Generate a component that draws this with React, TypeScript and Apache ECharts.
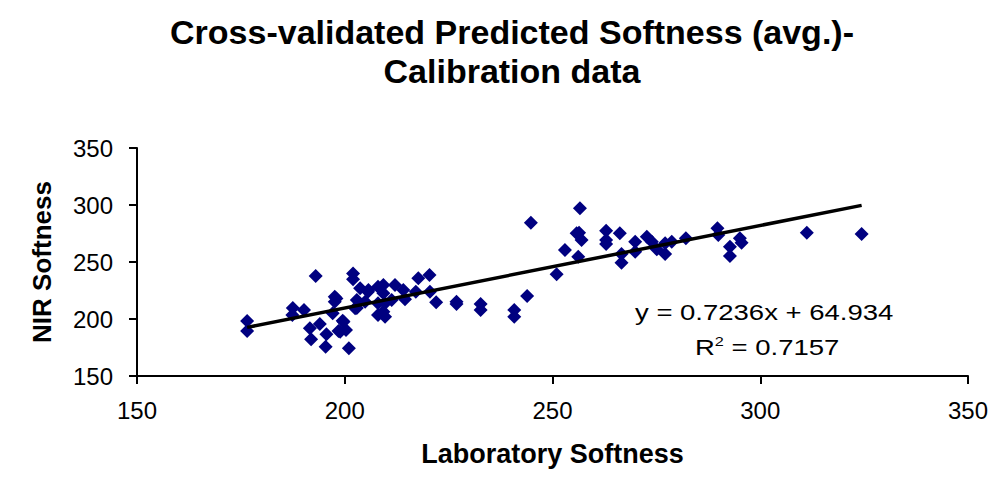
import React, { useEffect, useRef } from "react";
import * as echarts from "echarts";

const labX: number[] = [
  176.5, 176.5, 187.5, 187.4, 190.2, 193.0, 191.6, 194.0, 191.9, 195.6, 195.4,
  197.6, 197.6, 197.1, 199.5, 198.5, 200.3, 201.0, 202.0, 202.0, 203.7, 202.9,
  202.9, 205.6, 204.9, 208.0, 208.0, 208.0, 198.0, 199.7, 198.9, 205.7, 202.5,
  209.3, 209.3, 209.7, 209.3, 209.7, 212.1, 214.1, 211.3, 214.5, 217.7, 220.4,
  217.1, 220.5, 222.0, 226.9, 226.9, 232.7, 232.7, 240.8, 240.8, 243.9, 244.8,
  251.0, 253.0, 255.8, 256.6, 256.4, 257.0, 256.2, 262.9, 262.9, 262.9, 266.2,
  266.6, 266.6, 269.9, 269.9, 272.7, 273.9, 275.1, 277.1, 277.1, 278.7, 282.1,
  289.7, 289.9, 292.7, 292.7, 295.1, 295.5, 311.2, 324.4,
];
const nirY: number[] = [
  198.2, 189.5, 209.6, 203.5, 208.0, 237.7, 191.8, 195.6, 182.2, 186.6, 175.7,
  219.6, 215.2, 205.0, 198.5, 189.5, 190.4, 174.3, 240.0, 234.8, 227.0, 216.7,
  209.6, 224.0, 215.2, 228.3, 213.8, 203.5, 218.0, 197.6, 188.9, 225.4, 209.4,
  229.8, 222.5, 213.8, 206.4, 202.0, 229.8, 225.4, 216.7, 217.3, 235.7, 238.6,
  224.0, 224.0, 214.6, 215.2, 213.2, 213.2, 208.0, 208.0, 202.0, 220.2, 284.5,
  239.2, 260.5, 275.2, 297.1, 275.7, 269.3, 254.6, 277.5, 269.3, 265.8, 275.2,
  257.0, 249.4, 267.8, 259.0, 272.2, 267.8, 261.1, 257.0, 266.4, 267.8, 270.8,
  279.6, 273.7, 263.4, 255.3, 270.8, 266.9, 275.7, 274.6,
];

const titleLines: string[] = [
  "Cross-validated Predicted Softness (avg.)-",
  "Calibration data",
];
const xAxisName = "Laboratory Softness";
const yAxisName = "NIR Softness";
const slope = 0.7236;
const intercept = 64.934;
const rSquared = "0.7157";

export default function App() {
  const ref = useRef<HTMLDivElement>(null);
  useEffect(() => {
    if (!ref.current) return;
    document.body.style.margin = "0";
    const chart = echarts.init(ref.current, undefined, { renderer: "svg" });
    const points = labX.map((x, i) => [x, nirY[i]]);
    const xMin = Math.min(...labX);
    const xMax = Math.max(...labX);
    const trend = [
      [xMin, slope * xMin + intercept],
      [xMax, slope * xMax + intercept],
    ];
    const font = "'Liberation Sans', Arial, sans-serif";
    chart.setOption({
      animation: false,
      backgroundColor: "#ffffff",
      grid: { left: 137, right: 40, top: 148, bottom: 114, containLabel: false },
      xAxis: {
        type: "value",
        min: 150,
        max: 350,
        interval: 50,
        name: xAxisName,
        nameLocation: "middle",
        nameGap: 64,
        nameTextStyle: { fontFamily: font, fontWeight: "bold", fontSize: 27, color: "#000" },
        axisLine: { show: true, lineStyle: { color: "#000", width: 2 } },
        axisTick: { show: true, inside: false, length: 8, lineStyle: { color: "#000", width: 2 } },
        axisLabel: { fontFamily: font, fontSize: 24, color: "#000", margin: 22 },
        splitLine: { show: false },
      },
      yAxis: {
        type: "value",
        min: 150,
        max: 350,
        interval: 50,
        name: yAxisName,
        nameLocation: "middle",
        nameGap: 82,
        nameRotate: 90,
        nameTextStyle: { fontFamily: font, fontWeight: "bold", fontSize: 26, color: "#000" },
        axisLine: { show: true, lineStyle: { color: "#000", width: 2 } },
        axisTick: { show: true, inside: false, length: 8, lineStyle: { color: "#000", width: 2 } },
        axisLabel: { fontFamily: font, fontSize: 24, color: "#000", margin: 24 },
        splitLine: { show: false },
      },
      graphic: [
        {
          type: "text",
          x: 512,
          y: 12,
          style: {
            text: titleLines.join("\n"),
            font: `bold 34px ${font}`,
            fill: "#000",
            textAlign: "center",
            lineHeight: 39,
          },
        },
        {
          type: "text",
          x: 635,
          y: 312,
          scaleX: 1.25,
          style: {
            text: `y = ${slope}x + ${intercept}`,
            font: `22px ${font}`,
            fill: "#000",
            textVerticalAlign: "middle",
          },
        },
        {
          type: "text",
          x: 695,
          y: 347,
          scaleX: 1.25,
          style: {
            text: `{r|R}{sup|2}{r| = ${rSquared}}`,
            textVerticalAlign: "middle",
            rich: {
              r: { font: `22px ${font}`, fill: "#000", verticalAlign: "bottom" },
              sup: { font: `13px ${font}`, fill: "#000", padding: [0, 0, 10, 0] },
            },
          },
        },
      ],
      series: [
        {
          type: "scatter",
          data: points,
          symbol: "diamond",
          symbolSize: 14,
          itemStyle: { color: "#000080", opacity: 1 },
          z: 2,
        },
        {
          type: "line",
          data: trend,
          showSymbol: false,
          symbol: "none",
          lineStyle: { color: "#000", width: 3.5 },
          z: 3,
        },
      ],
    });
    return () => chart.dispose();
  }, []);
  return <div ref={ref} style={{ width: 1008, height: 490 }} />;
}
